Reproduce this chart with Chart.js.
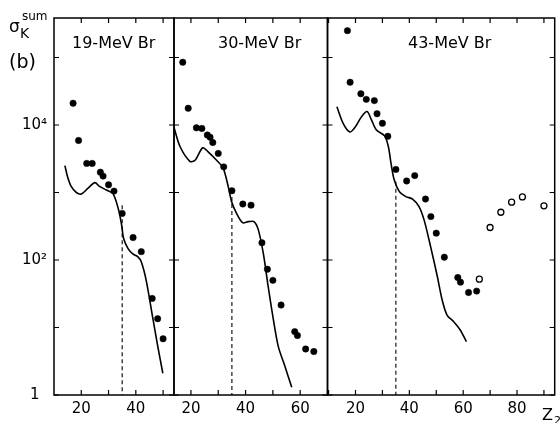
<!DOCTYPE html>
<html>
<head>
<meta charset="utf-8">
<script src="https://cdn.jsdelivr.net/npm/chart.js@4"></script>
<style>
  html, body { margin: 0; padding: 0; background: #fff; }
  #wrap { position: relative; width: 560px; height: 423px; overflow: hidden; }
  #wrap canvas { position: absolute; left: 0; top: 0; }
</style>
</head>
<body>
<div id="wrap">
  <canvas id="p1" width="560" height="423"></canvas>
  <canvas id="p2" width="560" height="423"></canvas>
  <canvas id="p3" width="560" height="423"></canvas>
</div>
<script>
// 19-MeV Br: measured points and calculated curve
const z19Dots = [17, 19, 22, 24, 27, 28, 30, 32, 35, 39, 42, 46, 48, 50];
const g19Dots = [21000, 5900, 2700, 2700, 2000, 1750, 1300, 1050, 490, 215, 133, 27, 13.5, 6.8];
const z19Curve = [14, 15, 16.3, 18.2, 20, 22.4, 25, 26.7, 29.2, 31.6, 33.7, 34.9, 35.5, 37.1, 38.9, 40.7, 42, 43.8, 46.2, 48, 49.9];
const g19Curve = [2500, 1700, 1230, 1000, 950, 1150, 1400, 1230, 1090, 970, 550, 310, 210, 149, 123, 112, 94, 50, 14, 5.4, 2.1];

// 30-MeV Br
const z30Dots = [17, 19, 22, 24, 26, 27, 28, 30, 32, 35, 39, 42, 46, 48, 50, 53, 58, 59, 62, 65];
const g30Dots = [85000, 17700, 9100, 8900, 7100, 6600, 5500, 3800, 2400, 1060, 675, 650, 180, 73, 50, 21.5, 8.7, 7.6, 4.8, 4.4];
const z30Curve = [13.8, 16, 19.6, 21.5, 24.3, 26.3, 29.4, 31.8, 33.7, 34.9, 36.7, 38.9, 41, 43.1, 44.7, 46.5, 48.3, 50.2, 52, 54.5, 56.9];
const g30Curve = [9200, 4800, 2900, 3000, 4600, 4000, 3000, 2300, 1200, 730, 490, 357, 370, 370, 277, 125, 40, 13, 5.2, 2.6, 1.3];

// 43-MeV Br (filled and open symbols)
const z43Dots = [17, 18, 22, 24, 27, 28, 30, 32, 35, 39, 42, 46, 48, 50, 53, 58, 59, 62, 65];
const g43Dots = [250000, 43000, 29000, 24000, 23000, 14700, 10600, 6800, 2200, 1480, 1780, 800, 440, 250, 110, 55, 47, 33, 34.6];
const z43Open = [66, 70, 74, 78, 82, 90];
const g43Open = [52, 303, 510, 720, 860, 635];
const z43Curve = [13.1, 15.4, 17.9, 19.7, 22.2, 24.3, 25.9, 27.7, 30.8, 32.2, 33.2, 34.4, 36.3, 38.7, 41.2, 43.6, 45.5, 47.9, 50.4, 52.2, 54, 56.5, 58.9, 61.2];
const g43Curve = [18600, 10600, 7900, 9100, 13200, 15800, 12000, 8500, 6900, 4800, 2700, 1530, 1030, 870, 800, 620, 390, 158, 57, 25.5, 15.3, 12.2, 9.2, 6.2];

// dashed marker at Z = 35, from its upper end down to the axis
const dashZ = 35;
const dashTop = [650, 860, 1440];

const yTicks = [1, 10, 100, 1000, 10000, 100000];
const yLabels = { 1: "1\u2002", 100: "10\u00B2", 10000: "10\u2074" };

Chart.defaults.font.family = "DejaVu Sans";
Chart.defaults.color = "#000";

const pts = (xs, ys) => xs.map((x, i) => ({ x, y: ys[i] }));

// frame, inward tick marks and panel heading
const panelFrame = {
  id: "panelFrame",
  afterDraw(chart, args, opts) {
    const { ctx, chartArea: a, scales } = chart;
    const x = scales.x, y = scales.y;
    ctx.save();
    ctx.strokeStyle = "#000";
    ctx.lineWidth = 1.5;
    ctx.strokeRect(a.left, a.top, a.right - a.left, a.bottom - a.top);
    ctx.lineWidth = 1.2;
    ctx.beginPath();
    for (let v = 10; v <= x.max; v += 10) {
      if (v <= x.min) continue;
      const px = x.getPixelForValue(v);
      ctx.moveTo(px, a.bottom); ctx.lineTo(px, a.bottom - 5);
      ctx.moveTo(px, a.top); ctx.lineTo(px, a.top + 5);
    }
    yTicks.forEach((v) => {
      const py = y.getPixelForValue(v);
      ctx.moveTo(a.left, py); ctx.lineTo(a.left + 5, py);
      ctx.moveTo(a.right, py); ctx.lineTo(a.right - 5, py);
    });
    ctx.stroke();

    ctx.fillStyle = "#000";
    ctx.textBaseline = "alphabetic";
    ctx.font = "16px 'DejaVu Sans'";
    ctx.fillText(opts.title, opts.titleX, 48);

    if (opts.yTitle) {
      ctx.font = "17px 'DejaVu Sans'";
      ctx.fillText("σ", 9, 32);
      ctx.font = "14px 'DejaVu Sans'";
      ctx.fillText("K", 20, 38);
      ctx.font = "12px 'DejaVu Sans'";
      ctx.fillText("sum", 22, 20);
      ctx.font = "19px 'DejaVu Sans'";
      ctx.fillText("(b)", 9, 68);
    }
    if (opts.xTitle) {
      ctx.font = "16px 'DejaVu Sans'";
      ctx.fillText("Z", 542, 420);
      ctx.font = "11px 'DejaVu Sans'";
      ctx.fillText("2", 554, 424);
    }
    ctx.restore();
  },
};

function makePanel(id, cfg) {
  const datasets = [
    {
      data: pts(cfg.zCurve, cfg.gCurve),
      showLine: true,
      borderColor: "#000",
      borderWidth: 1.6,
      pointRadius: 0,
      tension: 0.3,
    },
    {
      data: [{ x: dashZ, y: cfg.dashTop }, { x: dashZ, y: 1 }],
      showLine: true,
      borderColor: "#000",
      borderWidth: 1.1,
      borderDash: [4, 3],
      pointRadius: 0,
    },
    {
      data: pts(cfg.zDots, cfg.gDots),
      pointRadius: 3.2,
      pointBackgroundColor: "#000",
      pointBorderColor: "#000",
      pointBorderWidth: 0.5,
    },
  ];
  if (cfg.zOpen) {
    datasets.push({
      data: pts(cfg.zOpen, cfg.gOpen),
      pointRadius: 3,
      pointBackgroundColor: "#fff",
      pointBorderColor: "#000",
      pointBorderWidth: 1.3,
    });
  }

  return new Chart(document.getElementById(id), {
    type: "scatter",
    data: { datasets },
    plugins: [panelFrame],
    options: {
      responsive: false,
      animation: false,
      events: [],
      layout: { padding: { left: cfg.left, right: 560 - cfg.right, top: 18, bottom: 0 } },
      plugins: {
        legend: { display: false },
        tooltip: { enabled: false },
        panelFrame: { title: cfg.title, titleX: cfg.titleX, yTitle: cfg.yAxis, xTitle: cfg.xTitle },
      },
      scales: {
        x: {
          type: "linear",
          min: cfg.zMin,
          max: cfg.zMax,
          grid: { display: false, drawTicks: false },
          border: { display: false },
          afterFit: (s) => { s.height = 28; },
          ticks: {
            stepSize: 10,
            includeBounds: false,
            autoSkip: false,
            maxRotation: 0,
            padding: 5,
            font: { size: 15 },
            callback: (v) => (v % 20 === 0 ? String(v) : ""),
          },
        },
        y: {
          type: "logarithmic",
          display: cfg.yAxis,
          min: 1,
          max: 385000,
          grid: { display: false, drawTicks: false },
          border: { display: false },
          afterFit: (s) => { s.width = cfg.yAxis ? 54 : 0; },
          afterBuildTicks: (s) => { s.ticks = yTicks.map((v) => ({ value: v })); },
          ticks: {
            padding: 7,
            font: { size: 15 },
            callback: (v) => yLabels[v] || "",
          },
        },
      },
    },
  });
}

makePanel("p1", {
  left: 0, right: 174, zMin: 10, zMax: 54, yAxis: true,
  title: "19-MeV Br", titleX: 72,
  zDots: z19Dots, gDots: g19Dots, zCurve: z19Curve, gCurve: g19Curve, dashTop: dashTop[0],
});
makePanel("p2", {
  left: 174, right: 327.5, zMin: 13.8, zMax: 70, yAxis: false,
  title: "30-MeV Br", titleX: 218,
  zDots: z30Dots, gDots: g30Dots, zCurve: z30Curve, gCurve: g30Curve, dashTop: dashTop[1],
});
makePanel("p3", {
  left: 327.5, right: 557, zMin: 9.6, zMax: 94, yAxis: false, xTitle: true,
  title: "43-MeV Br", titleX: 408,
  zDots: z43Dots, gDots: g43Dots, zOpen: z43Open, gOpen: g43Open,
  zCurve: z43Curve, gCurve: g43Curve, dashTop: dashTop[2],
});
</script>
</body>
</html>
